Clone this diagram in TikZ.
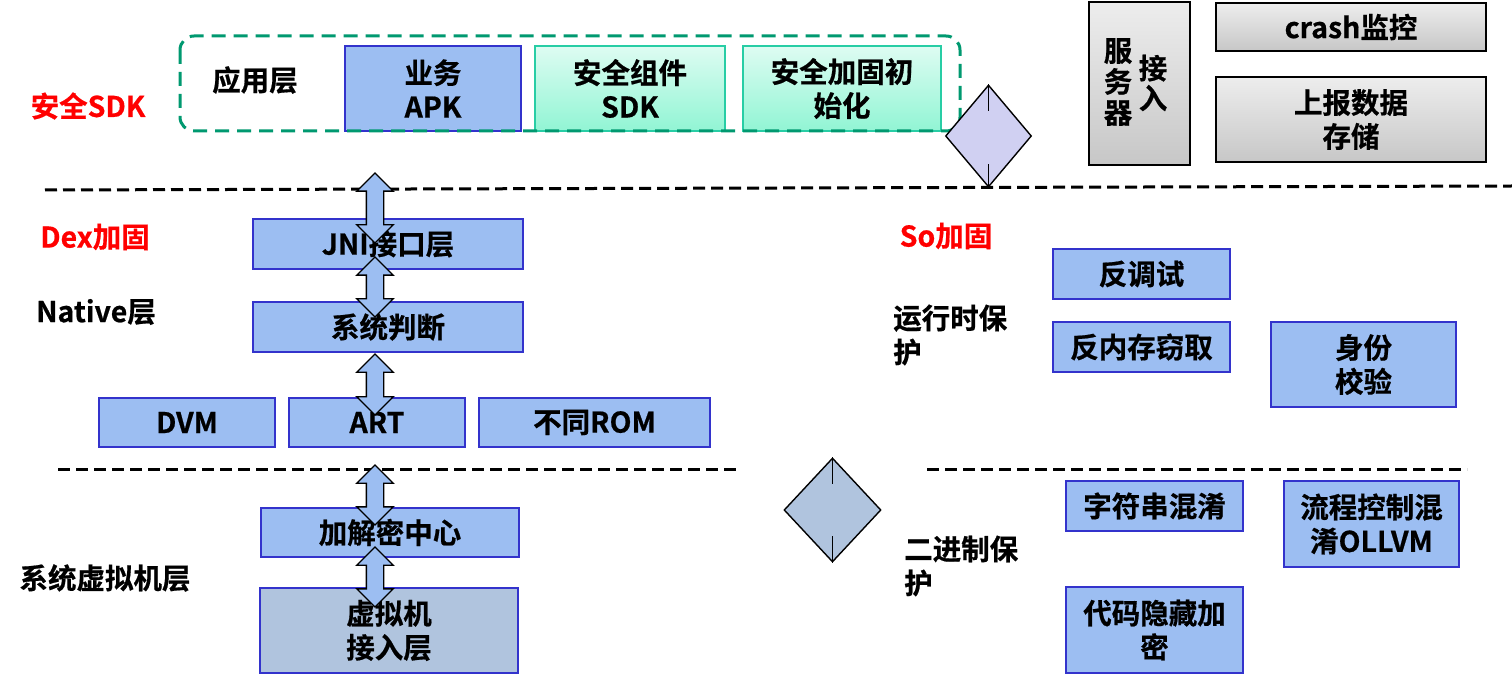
\documentclass[tikz,border=0pt]{standalone}
\usepackage{fontspec}
\setmainfont{Noto Sans CJK SC}[BoldFont={Noto Sans CJK SC Bold}, BoldFeatures={FakeBold=0.6}]
\usetikzlibrary{shapes.geometric,shapes.arrows,shadings}
\definecolor{boxblue}{RGB}{156,190,242}
\definecolor{edgeblue}{RGB}{51,51,204}
\definecolor{vmblue}{RGB}{176,196,222}
\definecolor{sdkgreen}{RGB}{0,153,112}
\definecolor{mintedge}{RGB}{40,205,165}
\definecolor{minttop}{RGB}{222,252,242}
\definecolor{mintbot}{RGB}{145,245,212}
\definecolor{lav}{RGB}{208,208,242}
\definecolor{labred}{RGB}{255,0,0}
\begin{document}
\begin{tikzpicture}[x=1pt,y=-1pt,
  every node/.style={font=\fontsize{28.5}{34}\selectfont\bfseries, inner sep=0pt},
  bbox/.style={draw=edgeblue, line width=2pt, fill=boxblue, align=center},
  vmbox/.style={bbox, fill=vmblue},
  mintbox/.style={draw=mintedge, line width=2pt, top color=minttop, bottom color=mintbot, align=center},
  graybox/.style={draw=black, line width=2pt, top color=white!93!black, bottom color=white!78!black, align=center},
  redlabel/.style={text=labred},
  plainlabel/.style={text=black},
  dblarrow/.style={double arrow, rotate=90, draw=black, line width=1.4pt, fill=boxblue,
     inner sep=8pt, minimum width=35pt, double arrow head extend=9.5pt, double arrow tip angle=90},
  divider/.style={draw=black, line width=3pt, dash pattern=on 12pt off 6pt},
  diam/.style={diamond, draw=black, line width=1.4pt, inner sep=0pt},
]
\useasboundingbox (0,0) rectangle (1512,684);
\fill[white] (0,0) rectangle (1512,684);

% top layer boxes
\node[bbox, minimum width=176pt, minimum height=85pt] (apk) at (433,88.5) {业务\\APK};
\node[mintbox, minimum width=190pt, minimum height=85pt] (sdk) at (630,88.5) {安全组件\\SDK};
\node[mintbox, minimum width=198pt, minimum height=85pt] (init) at (842,88.5) {安全加固初\\始化};
\draw[sdkgreen, line width=3pt, dash pattern=on 14pt off 8pt, rounded corners=14pt] (180,36) rectangle (960,131);
\node[plainlabel] (app) at (255,80) {应用层};
\node[redlabel] (sdklab) at (88,106) {安全SDK};

% server side
\node[graybox, minimum width=101pt, minimum height=163pt] (srv) at (1139.5,83.5) {};
\node[plainlabel, align=center, font=\fontsize{28.5}{31}\selectfont\bfseries] (srv1) at (1118,82) {服\\务\\器};
\node[plainlabel, align=center, font=\fontsize{28.5}{30}\selectfont\bfseries] (srv2) at (1153,83) {接\\入};
\node[graybox, minimum width=270pt, minimum height=48pt] (crash) at (1351,27) {crash监控};
\node[graybox, minimum width=270pt, minimum height=85pt] (store) at (1351,119.5) {上报数据\\存储};

% diamond 1
\node[diam, fill=lav, minimum width=86pt, minimum height=102pt] (d1) at (988.5,136) {};
\draw[black, line width=1.4pt] (d1.north) -- ++(0,27);
\draw[black, line width=1.4pt] (d1.south) -- ++(0,-24);

% dividers
\coordinate (l1a) at (45,190);
\coordinate (l1b) at (1512,186);
\draw[divider] (l1a) -- (l1b);
\coordinate (l2a) at (58,469);
\coordinate (l2b) at (737,469);
\draw[divider] (l2a) -- (l2b);
\coordinate (l3a) at (927,469);
\coordinate (l3b) at (1467,469);
\draw[divider] (l3a) -- (l3b);

% Dex part
\node[redlabel] (dexlab) at (95,237) {Dex加固};
\node[plainlabel] (native) at (96,312) {Native层};
\node[bbox, minimum width=270pt, minimum height=50pt] (jni) at (388,244) {JNI接口层};
\node[bbox, minimum width=270pt, minimum height=50pt] (judge) at (388,327) {系统判断};
\node[bbox, minimum width=176pt, minimum height=49pt] (dvm) at (187,422.5) {DVM};
\node[bbox, minimum width=176pt, minimum height=49pt] (art) at (377,422.5) {ART};
\node[bbox, minimum width=231pt, minimum height=49pt] (rom) at (594.5,422.5) {不同ROM};

% VM layer
\node[plainlabel] (vmlab) at (105,578) {系统虚拟机层};
\node[bbox, minimum width=258pt, minimum height=49pt] (crypt) at (390,532.5) {加解密中心};
\node[vmbox, minimum width=258pt, minimum height=85pt] (vm) at (389,630.5) {虚拟机\\接入层};

% arrows
\node[dblarrow, minimum height=70pt] (a1) at (375,208) {};
\node[dblarrow, minimum height=60pt] (a2) at (375,287) {};
\node[dblarrow, minimum height=61pt] (a3) at (375,384.5) {};
\node[dblarrow, minimum height=60pt] (a4) at (375,495) {};
\node[dblarrow, minimum height=60pt] (a5) at (375,577) {};

% So part
\node[redlabel] (solab) at (946,236) {So加固};
\node[plainlabel, anchor=west, align=left] (runlab) at (893,335) {运行时保\\护};
\node[bbox, minimum width=177pt, minimum height=50pt] (dbg) at (1141.5,274) {反调试};
\node[bbox, minimum width=177pt, minimum height=50pt] (mem) at (1141.5,347) {反内存窃取};
\node[bbox, minimum width=185pt, minimum height=85pt] (id) at (1363.5,364.5) {身份\\校验};

% diamond 2
\node[diam, fill=vmblue, minimum width=97pt, minimum height=104pt] (d2) at (832.5,510) {};
\draw[black, line width=1.4pt] (d2.north) -- ++(0,27);
\draw[black, line width=1.4pt] (d2.south) -- ++(0,-27);

% binary protection
\node[plainlabel, anchor=west, align=left] (binlab) at (904,566) {二进制保\\护};
\node[bbox, minimum width=177pt, minimum height=50pt] (str) at (1154.5,506) {字符串混淆};
\node[bbox, minimum width=175pt, minimum height=86pt] (flow) at (1371.5,524) {流程控制混\\淆OLLVM};
\node[bbox, minimum width=177pt, minimum height=86pt] (hide) at (1154.5,630) {代码隐藏加\\密};
\end{tikzpicture}
\end{document}
